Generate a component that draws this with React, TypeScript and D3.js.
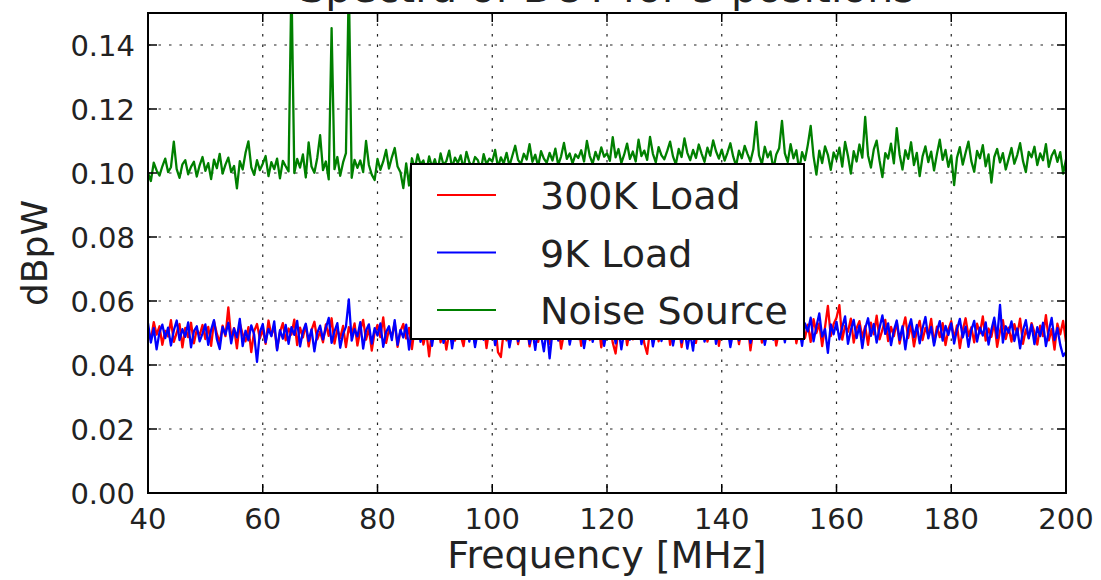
import React from 'react';
import * as d3 from 'd3';

// Frequency grid of the spectra: 40 MHz to 200 MHz every 0.5 MHz
const FREQ_START = 40;
const FREQ_STEP = 0.5;

// 300K Load (dBpW)
const load300K = [
  0.0512, 0.0478, 0.0534, 0.0495, 0.0521, 0.0463, 0.0507, 0.0489, 0.0540, 0.0472,
  0.0501, 0.0528, 0.0455, 0.0516, 0.0487, 0.0532, 0.0468, 0.0510, 0.0493, 0.0525,
  0.0481, 0.0519, 0.0460, 0.0537, 0.0498, 0.0470, 0.0523, 0.0490, 0.0580, 0.0485,
  0.0515, 0.0452, 0.0530, 0.0496, 0.0474, 0.0518, 0.0440, 0.0506, 0.0528, 0.0483,
  0.0511, 0.0466, 0.0539, 0.0492, 0.0520, 0.0449, 0.0503, 0.0531, 0.0477, 0.0514,
  0.0495, 0.0542, 0.0462, 0.0517, 0.0486, 0.0526, 0.0458, 0.0509, 0.0535, 0.0480,
  0.0504, 0.0471, 0.0527, 0.0491, 0.0546, 0.0467, 0.0512, 0.0484, 0.0522, 0.0456,
  0.0518, 0.0493, 0.0530, 0.0461, 0.0508, 0.0541, 0.0479, 0.0514, 0.0445, 0.0502,
  0.0525, 0.0487, 0.0549, 0.0469, 0.0511, 0.0490, 0.0532, 0.0457, 0.0506, 0.0528,
  0.0483, 0.0516, 0.0450, 0.0520, 0.0496, 0.0538, 0.0464, 0.0505, 0.0427, 0.0510,
  0.0489, 0.0527, 0.0471, 0.0513, 0.0448, 0.0501, 0.0535, 0.0476, 0.0518, 0.0492,
  0.0459, 0.0524, 0.0497, 0.0536, 0.0468, 0.0509, 0.0481, 0.0529, 0.0453, 0.0515,
  0.0488, 0.0530, 0.0440, 0.0425, 0.0506, 0.0477, 0.0521, 0.0494, 0.0539, 0.0465,
  0.0510, 0.0485, 0.0527, 0.0458, 0.0503, 0.0533, 0.0472, 0.0516, 0.0490, 0.0541,
  0.0466, 0.0508, 0.0482, 0.0524, 0.0451, 0.0499, 0.0537, 0.0475, 0.0513, 0.0487,
  0.0529, 0.0460, 0.0505, 0.0544, 0.0478, 0.0517, 0.0493, 0.0531, 0.0455, 0.0509,
  0.0484, 0.0526, 0.0470, 0.0436, 0.0512, 0.0491, 0.0535, 0.0462, 0.0507, 0.0480,
  0.0522, 0.0498, 0.0540, 0.0467, 0.0435, 0.0511, 0.0486, 0.0528, 0.0474, 0.0515,
  0.0492, 0.0536, 0.0463, 0.0504, 0.0483, 0.0525, 0.0456, 0.0510, 0.0538, 0.0479,
  0.0514, 0.0469, 0.0523, 0.0496, 0.0545, 0.0473, 0.0508, 0.0486, 0.0532, 0.0460,
  0.0519, 0.0494, 0.0541, 0.0476, 0.0506, 0.0527, 0.0465, 0.0513, 0.0489, 0.0535,
  0.0446, 0.0511, 0.0482, 0.0529, 0.0470, 0.0517, 0.0548, 0.0488, 0.0524, 0.0461,
  0.0507, 0.0539, 0.0477, 0.0520, 0.0495, 0.0551, 0.0468, 0.0512, 0.0533, 0.0484,
  0.0526, 0.0472, 0.0543, 0.0500, 0.0530, 0.0459, 0.0518, 0.0585, 0.0490, 0.0528,
  0.0548, 0.0587, 0.0479, 0.0522, 0.0504, 0.0545, 0.0470, 0.0515, 0.0537, 0.0486,
  0.0521, 0.0463, 0.0532, 0.0496, 0.0554, 0.0480, 0.0510, 0.0541, 0.0475, 0.0519,
  0.0490, 0.0535, 0.0467, 0.0512, 0.0549, 0.0484, 0.0526, 0.0458, 0.0508, 0.0538,
  0.0478, 0.0516, 0.0493, 0.0544, 0.0469, 0.0520, 0.0487, 0.0531, 0.0462, 0.0511,
  0.0537, 0.0482, 0.0524, 0.0453, 0.0509, 0.0546, 0.0491, 0.0518, 0.0471, 0.0529,
  0.0499, 0.0552, 0.0476, 0.0514, 0.0488, 0.0534, 0.0457, 0.0506, 0.0540, 0.0481,
  0.0517, 0.0473, 0.0528, 0.0495, 0.0545, 0.0466, 0.0511, 0.0485, 0.0531, 0.0502,
  0.0464, 0.0523, 0.0490, 0.0556, 0.0477, 0.0512, 0.0448, 0.0529, 0.0496, 0.0538,
  0.0472,
];

// 9K Load (dBpW)
const load9K = [
  0.0531, 0.0470, 0.0515, 0.0449, 0.0502, 0.0526, 0.0484, 0.0517, 0.0461, 0.0508,
  0.0539, 0.0478, 0.0512, 0.0488, 0.0533, 0.0455, 0.0506, 0.0521, 0.0474, 0.0498,
  0.0527, 0.0463, 0.0510, 0.0540, 0.0481, 0.0450, 0.0519, 0.0495, 0.0532, 0.0468,
  0.0514, 0.0486, 0.0544, 0.0459, 0.0507, 0.0477, 0.0524, 0.0496, 0.0410, 0.0503,
  0.0528, 0.0471, 0.0513, 0.0490, 0.0536, 0.0446, 0.0509, 0.0482, 0.0525, 0.0466,
  0.0518, 0.0494, 0.0538, 0.0458, 0.0504, 0.0529, 0.0475, 0.0511, 0.0443, 0.0500,
  0.0523, 0.0480, 0.0516, 0.0547, 0.0469, 0.0505, 0.0531, 0.0454, 0.0497, 0.0520,
  0.0605, 0.0476, 0.0512, 0.0489, 0.0534, 0.0451, 0.0508, 0.0527, 0.0467, 0.0515,
  0.0492, 0.0530, 0.0457, 0.0503, 0.0521, 0.0478, 0.0540, 0.0463, 0.0510, 0.0486,
  0.0526, 0.0448, 0.0514, 0.0495, 0.0537, 0.0472, 0.0509, 0.0485, 0.0529, 0.0460,
  0.0517, 0.0491, 0.0535, 0.0469, 0.0506, 0.0528, 0.0452, 0.0511, 0.0483, 0.0522,
  0.0499, 0.0538, 0.0473, 0.0516, 0.0456, 0.0507, 0.0531, 0.0479, 0.0513, 0.0494,
  0.0527, 0.0462, 0.0509, 0.0541, 0.0485, 0.0518, 0.0455, 0.0502, 0.0533, 0.0474,
  0.0512, 0.0489, 0.0529, 0.0466, 0.0508, 0.0447, 0.0520, 0.0495, 0.0443, 0.0515,
  0.0421, 0.0504, 0.0532, 0.0476, 0.0514, 0.0490, 0.0536, 0.0464, 0.0509, 0.0527,
  0.0481, 0.0519, 0.0453, 0.0506, 0.0538, 0.0472, 0.0513, 0.0493, 0.0530, 0.0460,
  0.0510, 0.0487, 0.0524, 0.0468, 0.0516, 0.0449, 0.0505, 0.0534, 0.0479, 0.0512,
  0.0496, 0.0540, 0.0465, 0.0509, 0.0484, 0.0526, 0.0458, 0.0503, 0.0531, 0.0475,
  0.0518, 0.0492, 0.0537, 0.0461, 0.0507, 0.0528, 0.0470, 0.0514, 0.0451, 0.0500,
  0.0445, 0.0523, 0.0488, 0.0535, 0.0473, 0.0511, 0.0495, 0.0539, 0.0466, 0.0508,
  0.0527, 0.0482, 0.0515, 0.0456, 0.0503, 0.0532, 0.0477, 0.0519, 0.0491, 0.0536,
  0.0469, 0.0510, 0.0545, 0.0485, 0.0522, 0.0463, 0.0508, 0.0534, 0.0479, 0.0516,
  0.0498, 0.0543, 0.0471, 0.0525, 0.0507, 0.0557, 0.0482, 0.0517, 0.0460, 0.0530,
  0.0505, 0.0548, 0.0474, 0.0520, 0.0561, 0.0489, 0.0512, 0.0438, 0.0527, 0.0496,
  0.0535, 0.0480, 0.0518, 0.0552, 0.0466, 0.0509, 0.0541, 0.0484, 0.0523, 0.0453,
  0.0514, 0.0546, 0.0491, 0.0528, 0.0470, 0.0516, 0.0555, 0.0497, 0.0530, 0.0462,
  0.0508, 0.0539, 0.0478, 0.0521, 0.0449, 0.0513, 0.0543, 0.0487, 0.0525, 0.0468,
  0.0515, 0.0550, 0.0483, 0.0519, 0.0461, 0.0506, 0.0537, 0.0476, 0.0522, 0.0494,
  0.0530, 0.0467, 0.0511, 0.0544, 0.0486, 0.0520, 0.0457, 0.0509, 0.0538, 0.0473,
  0.0517, 0.0492, 0.0533, 0.0464, 0.0510, 0.0548, 0.0485, 0.0588, 0.0470, 0.0521,
  0.0501, 0.0536, 0.0475, 0.0514, 0.0452, 0.0508, 0.0540, 0.0483, 0.0526, 0.0465,
  0.0518, 0.0490, 0.0532, 0.0459, 0.0506, 0.0547, 0.0478, 0.0515, 0.0463, 0.0428,
  0.0440,
];

// Noise Source (dBpW)
const noiseSource = [
  0.1000, 0.0975, 0.1032, 0.1008, 0.0992, 0.1021, 0.1045, 0.1003, 0.1018, 0.1098,
  0.1012, 0.0985, 0.1027, 0.1040, 0.0996, 0.1019, 0.1035, 0.0989, 0.1024, 0.1050,
  0.1007, 0.1031, 0.0981, 0.1042, 0.1015, 0.1060, 0.0998, 0.1026, 0.1048, 0.1003,
  0.1022, 0.0952, 0.1037, 0.1011, 0.1063, 0.1099, 0.1018, 0.0994, 0.1040, 0.1009,
  0.1029, 0.1053, 0.0990, 0.1034, 0.1012, 0.1045, 0.0983, 0.1038, 0.1021, 0.1005,
  0.1600, 0.1000, 0.1044, 0.1017, 0.1058, 0.0986, 0.1096, 0.1020, 0.1001, 0.1047,
  0.1118, 0.1009, 0.1036, 0.0980, 0.1453, 0.1012, 0.1050, 0.0991, 0.1033, 0.1062,
  0.1600, 0.0985, 0.1041, 0.1016, 0.1039, 0.1003, 0.1100, 0.1025, 0.0995, 0.0978,
  0.1044, 0.1010, 0.1036, 0.1072, 0.1014, 0.1049, 0.1078, 0.1020, 0.1002, 0.0953,
  0.1030, 0.0961, 0.1046, 0.1012, 0.1058, 0.1027, 0.1039, 0.1004, 0.1052, 0.1018,
  0.1043, 0.1009, 0.1061, 0.1025, 0.1037, 0.1070, 0.1016, 0.1048, 0.1031, 0.1055,
  0.1012, 0.1066, 0.1034, 0.1019, 0.1050, 0.1040, 0.1008, 0.1059, 0.1027, 0.1045,
  0.1036, 0.1072, 0.1018, 0.1049, 0.1030, 0.1063, 0.1022, 0.1054, 0.1085, 0.1041,
  0.1028, 0.1060, 0.1042, 0.1090, 0.1035, 0.1057, 0.1021, 0.1068, 0.1045, 0.1032,
  0.1063, 0.1039, 0.1076, 0.1025, 0.1052, 0.1094, 0.1044, 0.1061, 0.1030, 0.1058,
  0.1047, 0.1071, 0.1036, 0.1100, 0.1053, 0.1029, 0.1066, 0.1042, 0.1080, 0.1051,
  0.1062, 0.1038, 0.1112, 0.1049, 0.1075, 0.1031, 0.1058, 0.1092, 0.1044, 0.1067,
  0.1036, 0.1104, 0.1053, 0.1070, 0.1041, 0.1113, 0.1060, 0.1033, 0.1081, 0.1055,
  0.1043, 0.1069, 0.1098, 0.1052, 0.1027, 0.1075, 0.1050, 0.1108, 0.1063, 0.1040,
  0.1072, 0.1047, 0.1089, 0.1060, 0.1035, 0.1079, 0.1054, 0.1102, 0.1068, 0.1045,
  0.1073, 0.1039, 0.1064, 0.1093, 0.1051, 0.1022, 0.1070, 0.1046, 0.1085, 0.1059,
  0.1036, 0.1074, 0.1160, 0.1055, 0.1028, 0.1082, 0.1049, 0.1067, 0.1012, 0.1058,
  0.1077, 0.1163, 0.1061, 0.1034, 0.1090, 0.1046, 0.1071, 0.1008, 0.1065, 0.1040,
  0.1088, 0.1147, 0.1052, 0.0995, 0.1070, 0.1031, 0.1083, 0.1057, 0.1010, 0.1064,
  0.1042, 0.1079, 0.1020, 0.1097, 0.1053, 0.0998, 0.1068, 0.1036, 0.1089, 0.1048,
  0.1175, 0.1055, 0.1017, 0.1074, 0.1101, 0.1039, 0.0987, 0.1062, 0.1045, 0.1092,
  0.1030, 0.1140, 0.1058, 0.1011, 0.1071, 0.1044, 0.1096, 0.1025, 0.1063, 0.0990,
  0.1052, 0.1083, 0.1034, 0.1067, 0.1008, 0.1059, 0.1104, 0.1041, 0.1072, 0.1019,
  0.1055, 0.0962, 0.1048, 0.1081, 0.1026, 0.1063, 0.1098, 0.1037, 0.1004, 0.1069,
  0.1046, 0.1087, 0.1021, 0.1058, 0.0970, 0.1050, 0.1075, 0.1033, 0.1062, 0.1011,
  0.1044, 0.1078, 0.1029, 0.1056, 0.1093, 0.1038, 0.1003, 0.1066, 0.1049, 0.1082,
  0.1025, 0.1061, 0.1040, 0.1090, 0.1019, 0.1054, 0.1071, 0.1035, 0.1065, 0.0998,
  0.1042,
];

const seriesNames = ['300K Load', '9K Load', 'Noise Source'];
const seriesColors = ['#ff0000', '#0000ff', '#008000'];
const xTicks = [40, 60, 80, 100, 120, 140, 160, 180, 200];
const yTicks = [0, 0.02, 0.04, 0.06, 0.08, 0.1, 0.12, 0.14];
const titleText = 'Spectra of DUT for 3 positions';
const xLabel = 'Frequency [MHz]';
const yLabel = 'dBpW';

const FONT = '"DejaVu Sans", sans-serif';

export default function App() {
  const W = 1101;
  const H = 580;
  const L = 148, R = 1066, T = 13, B = 493;
  const x = d3.scaleLinear().domain([40, 200]).range([L, R]);
  const y = d3.scaleLinear().domain([0, 0.15]).range([B, T]);
  const allSeries = [load300K, load9K, noiseSource];
  const line = d3
    .line<number>()
    .x((_, i) => x(FREQ_START + i * FREQ_STEP))
    .y((d) => y(d));
  const tickLen = 9;
  const legend = { x: 411, y: 164, w: 393, h: 175 };

  return (
    <svg
      width={W}
      height={H}
      style={{ position: 'absolute', left: 0, top: 0, background: '#fff' }}
      fontFamily={FONT}
    >
      <defs>
        <clipPath id="plotclip">
          <rect x={L} y={T} width={R - L} height={B - T} />
        </clipPath>
      </defs>
      <rect x={0} y={0} width={W} height={H} fill="#fff" />
      {/* grid */}
      <g stroke="#222" strokeWidth={1.2} strokeDasharray="2.5,8">
        {xTicks.map((t) => (
          <line key={'gx' + t} x1={x(t)} x2={x(t)} y1={T} y2={B} />
        ))}
        {yTicks.map((t) => (
          <line key={'gy' + t} x1={L} x2={R} y1={y(t)} y2={y(t)} />
        ))}
      </g>
      {/* series */}
      <g clipPath="url(#plotclip)" fill="none" strokeWidth={2.3} strokeLinejoin="round">
        {allSeries.map((s, k) => (
          <path key={k} d={line(s) || ''} stroke={seriesColors[k]} />
        ))}
      </g>
      {/* ticks */}
      <g stroke="#000" strokeWidth={1.5}>
        {xTicks.map((t) => (
          <g key={'tx' + t}>
            <line x1={x(t)} x2={x(t)} y1={B} y2={B - tickLen} />
            <line x1={x(t)} x2={x(t)} y1={T} y2={T + tickLen} />
          </g>
        ))}
        {yTicks.map((t) => (
          <g key={'ty' + t}>
            <line x1={L} x2={L + tickLen} y1={y(t)} y2={y(t)} />
            <line x1={R} x2={R - tickLen} y1={y(t)} y2={y(t)} />
          </g>
        ))}
      </g>
      {/* frame */}
      <rect x={L} y={T} width={R - L} height={B - T} fill="none" stroke="#000" strokeWidth={2} />
      {/* tick labels */}
      <g fontSize={29} fill="#222">
        {xTicks.map((t) => (
          <text key={'lx' + t} x={x(t)} y={B + 36} textAnchor="middle">
            {t}
          </text>
        ))}
        {yTicks.map((t) => (
          <text key={'ly' + t} x={L - 13} y={y(t) + 11} textAnchor="end">
            {d3.format('.2f')(t)}
          </text>
        ))}
      </g>
      {/* axis labels */}
      <text x={(L + R) / 2} y={568} textAnchor="middle" fontSize={38} fill="#222">
        {xLabel}
      </text>
      <text
        transform={`translate(47, ${(T + B) / 2}) rotate(-90)`}
        textAnchor="middle"
        fontSize={36}
        fill="#222"
      >
        {yLabel}
      </text>
      <text x={(L + R) / 2} y={2} textAnchor="middle" fontSize={41} fill="#222">
        {titleText}
      </text>
      {/* legend */}
      <g>
        <rect x={legend.x} y={legend.y} width={legend.w} height={legend.h} fill="#fff" stroke="#000" strokeWidth={2} />
        {seriesNames.map((n, k) => {
          const ly = 195 + k * 57.5;
          return (
            <g key={n}>
              <line x1={437} x2={496} y1={ly} y2={ly} stroke={seriesColors[k]} strokeWidth={2} />
              <text x={540} y={ly + 14} fontSize={38} fill="#222">
                {n}
              </text>
            </g>
          );
        })}
      </g>
    </svg>
  );
}
